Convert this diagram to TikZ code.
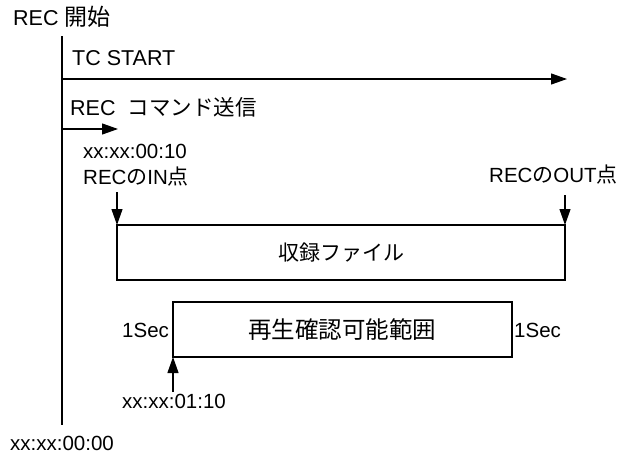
\documentclass[tikz,border=0pt]{standalone}
\usepackage{fontspec}
\setmainfont{Liberation Sans}
\newfontfamily\jp{Noto Sans CJK JP}
\usetikzlibrary{arrows.meta}
\begin{document}
\begin{tikzpicture}[x=1pt,y=-1pt,
  lbl/.style={inner sep=0pt,anchor=base west,font=\fontsize{20.5}{24}\selectfont},
  boxlbl/.style={inner sep=0pt,anchor=center},
  ln/.style={line width=1.2pt,black},
  arr/.style={ln,-{Triangle[length=16pt,width=11pt]}},
  rec/.style={ln,draw,fill=white}]
\useasboundingbox (0,0) rectangle (624,455);
% main time line
\coordinate (top) at (62,36);
\coordinate (bot) at (62,425);
\draw[ln] (top) -- (bot);
% labels
\node[lbl] (recstart) at (13,25) {\fontsize{21.5}{24}\selectfont REC {\jp\fontsize{23}{24}\selectfont 開始}};
\node[lbl] (tcstart) at (72,65) {\fontsize{21.5}{24}\selectfont TC START};
\coordinate (tcA) at (62,79);
\coordinate (tcB) at (567,79);
\draw[arr] (tcA) -- (tcB);
\node[lbl] (cmd) at (70,115) {\fontsize{21.5}{24}\selectfont REC\ \ {\jp\fontsize{21.5}{24}\selectfont コマンド送信}};
\coordinate (cmdA) at (62,129);
\coordinate (cmdB) at (118,129);
\draw[arr] (cmdA) -- (cmdB);
\node[lbl] (tc0010) at (83,158) {xx:xx:00:10};
\node[lbl] (inpt) at (83,184) {REC{\jp\fontsize{21}{24}\selectfont の}IN{\jp\fontsize{21}{24}\selectfont 点}};
\node[lbl] (outpt) at (489,182) {REC{\jp\fontsize{21}{24}\selectfont の}OUT{\jp\fontsize{21}{24}\selectfont 点}};
% boxes
\draw[rec] (117,225) rectangle (565,280);
\node[boxlbl] (file) at (341,253) {\jp\fontsize{21}{24}\selectfont 収録ファイル};
\coordinate (fileNW) at (117,225);
\coordinate (fileNE) at (565,225);
\coordinate (inA) at (117,192);
\coordinate (outA) at (565,195);
\draw[arr] (inA) -- (fileNW);
\draw[arr] (outA) -- (fileNE);
\draw[rec] (173,302) rectangle (512,357);
\node[boxlbl] (play) at (342,330) {\jp\fontsize{23.5}{26}\selectfont 再生確認可能範囲};
\node[lbl] (secL) at (122,337) {1Sec};
\node[lbl] (secR) at (514,337) {1Sec};
\coordinate (playSW) at (173,357);
\coordinate (upA) at (173,392);
\draw[arr] (upA) -- (playSW);
\node[lbl] (tc0110) at (122,408) {xx:xx:01:10};
\node[lbl] (tc0000) at (10,450) {xx:xx:00:00};
\end{tikzpicture}
\end{document}
